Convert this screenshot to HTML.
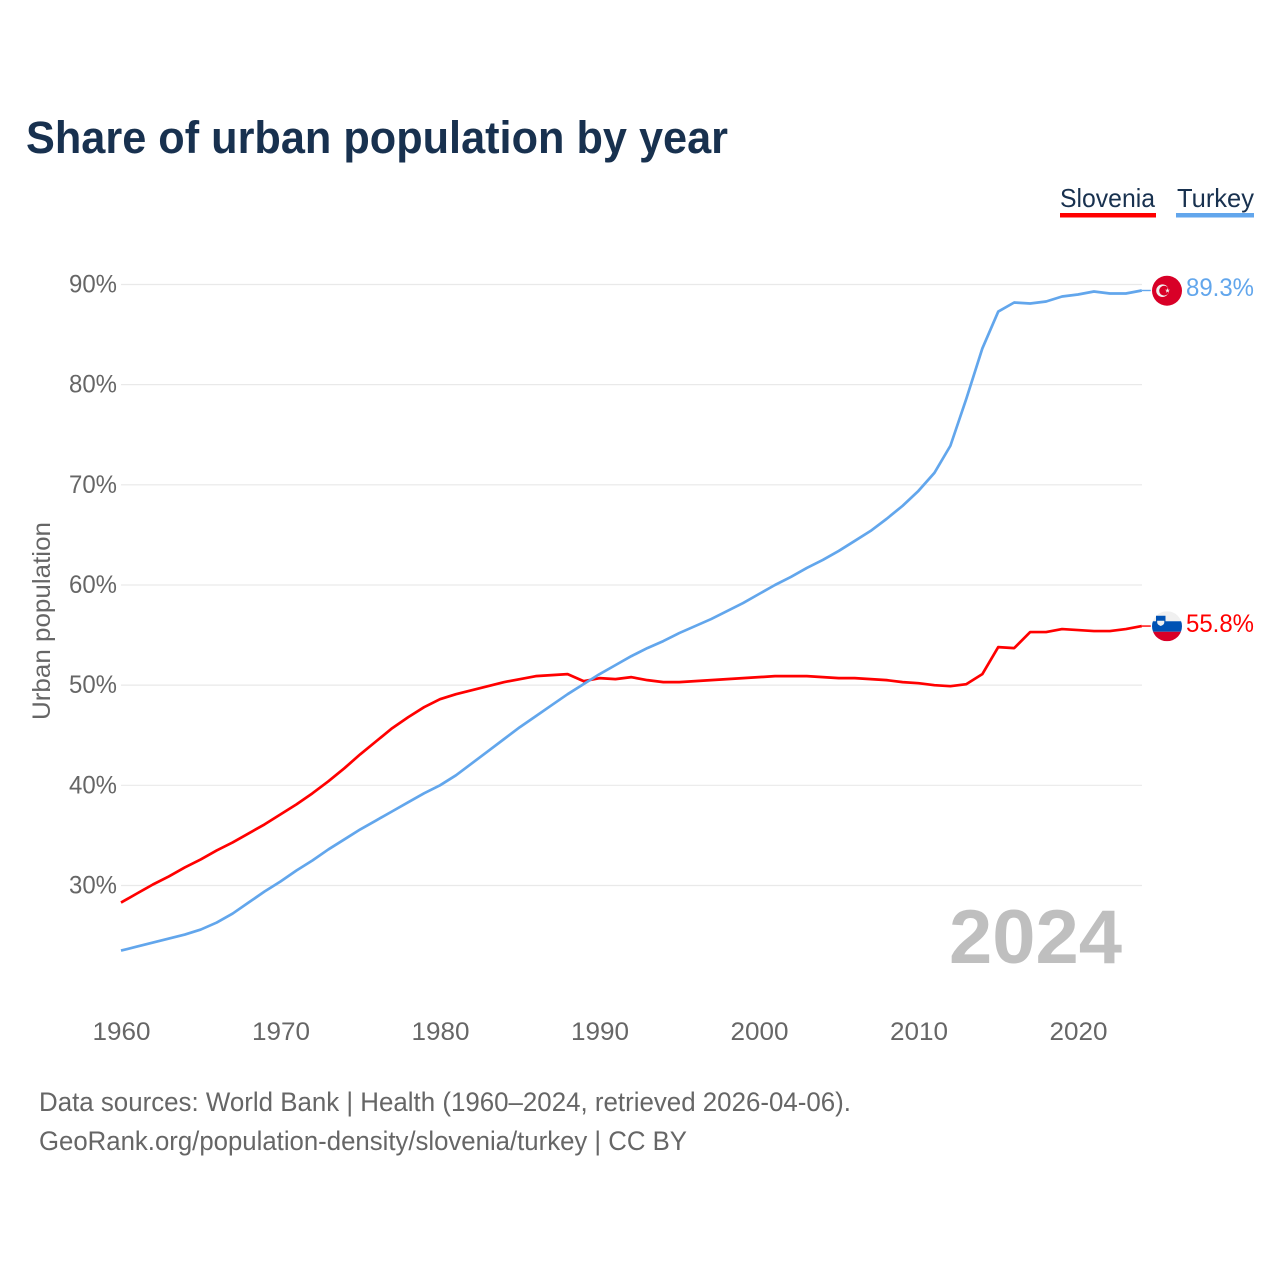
<!DOCTYPE html>
<html lang="en">
<head>
<meta charset="utf-8">
<title>Share of urban population by year</title>
<style>
html,body{margin:0;padding:0;background:#fff;}
svg{display:block;}
text{font-family:"Liberation Sans",sans-serif;}
</style>
</head>
<body>
<svg id="chart" xmlns="http://www.w3.org/2000/svg" width="1280" height="1280" viewBox="0 0 1280 1280">
  <rect width="1280" height="1280" fill="#fff"/>
  <text x="26" y="153" font-size="45" font-weight="700" fill="#18314f" textLength="702" lengthAdjust="spacingAndGlyphs">Share of urban population by year</text>

  <g>
    <text x="1060" y="207" font-size="26" fill="#18314f" textLength="95" lengthAdjust="spacingAndGlyphs">Slovenia</text>
    <rect x="1060" y="213" width="96" height="4.5" fill="#ff0000"/>
  </g>
  <g>
    <text x="1177" y="207" font-size="26" fill="#18314f" textLength="77" lengthAdjust="spacingAndGlyphs">Turkey</text>
    <rect x="1176" y="213" width="78" height="4.5" fill="#62a6ec"/>
  </g>

  <g id="grid"></g>
  <g id="yticks"></g>
  <g id="xticks"></g>
  <text transform="translate(50,720) rotate(-90)" font-size="25" fill="#666" textLength="198" lengthAdjust="spacingAndGlyphs">Urban population</text>

  <text x="1122" y="963" text-anchor="end" font-size="76" font-weight="700" fill="#bfbfbf" textLength="173" lengthAdjust="spacingAndGlyphs">2024</text>

  <g id="series"></g>

  <g id="flag-turkey">
    <circle cx="0" cy="0" r="15" fill="#d80027"/>
    <circle cx="-4.5" cy="0" r="6.3" fill="#f0f0f0"/>
    <circle cx="-2.9" cy="0" r="4.9" fill="#d80027"/>
    <polygon points="0.5,-2.8 1.1,-1 3,-1 1.5,0.1 2,2 0.5,0.9 -1,2 -0.5,0.1 -2,-1 -0.1,-1" fill="#f0f0f0"/>
  </g>
  <g id="flag-slovenia">
    <clipPath id="si-clip"><circle cx="0" cy="0" r="15"/></clipPath>
    <g clip-path="url(#si-clip)">
      <rect x="-15" y="-15" width="30" height="10" fill="#f0f0f0"/>
      <rect x="-15" y="-5" width="30" height="10.5" fill="#0052b4"/>
      <rect x="-15" y="5.5" width="30" height="9.5" fill="#d80027"/>
    </g>
    <path d="M-11,-10.5 h9.5 v6.5 q0,3.6 -4.75,5 q-4.75,-1.4 -4.75,-5 z" fill="#0052b4"/>
    <path d="M-9.8,-5.5 h7.1 v1.6 q0,2.4 -3.55,3.6 q-3.55,-1.2 -3.55,-3.6 z" fill="#f0f0f0"/>
  </g>
  <text id="label-turkey" x="1186" y="296" font-size="25" fill="#62a6ec" textLength="68" lengthAdjust="spacingAndGlyphs">89.3%</text>
  <text id="label-slovenia" x="1186" y="632" font-size="25" fill="#ff0000" textLength="68" lengthAdjust="spacingAndGlyphs">55.8%</text>

  <text x="39" y="1111" font-size="26.5" fill="#666" textLength="812" lengthAdjust="spacingAndGlyphs">Data sources: World Bank | Health (1960–2024, retrieved 2026-04-06).</text>
  <text x="39" y="1150" font-size="26.5" fill="#666" textLength="648" lengthAdjust="spacingAndGlyphs">GeoRank.org/population-density/slovenia/turkey | CC BY</text>
</svg>
<script>
const startYear = 1960;
const slovenia = [28.3,29.2,30.1,30.9,31.8,32.6,33.5,34.3,35.2,36.1,37.1,38.1,39.2,40.4,41.7,43.1,44.4,45.7,46.8,47.8,48.6,49.1,49.5,49.9,50.3,50.6,50.9,51.0,51.1,50.4,50.7,50.6,50.8,50.5,50.3,50.3,50.4,50.5,50.6,50.7,50.8,50.9,50.9,50.9,50.8,50.7,50.7,50.6,50.5,50.3,50.2,50.0,49.9,50.1,51.1,53.8,53.7,55.3,55.3,55.6,55.5,55.4,55.4,55.6,55.9];
const turkey = [23.5,23.9,24.3,24.7,25.1,25.6,26.3,27.2,28.3,29.4,30.4,31.5,32.5,33.6,34.6,35.6,36.5,37.4,38.3,39.2,40.0,41.0,42.2,43.4,44.6,45.8,46.9,48.0,49.1,50.1,51.1,52.0,52.9,53.7,54.4,55.2,55.9,56.6,57.4,58.2,59.1,60.0,60.8,61.7,62.5,63.4,64.4,65.4,66.6,67.9,69.4,71.2,73.9,78.6,83.6,87.3,88.2,88.1,88.3,88.8,89.0,89.3,89.1,89.1,89.4];
const yTicks = [30,40,50,60,70,80,90];
const xTicks = [1960,1970,1980,1990,2000,2010,2020];

const NS = 'http://www.w3.org/2000/svg';
function xScale(year){ return 121 + (year - 1960) * 15.95; }
function yScale(v){ return 885.5 - (v - 30) * 10.017; }
function make(tag, parent, attrs){
  const el = document.createElementNS(NS, tag);
  for (const k in attrs) el.setAttribute(k, attrs[k]);
  parent.appendChild(el);
  return el;
}
const grid = document.getElementById('grid');
const yG = document.getElementById('yticks');
const xG = document.getElementById('xticks');
const seriesG = document.getElementById('series');

yTicks.forEach(function(t){
  const line = make('line', grid, {x1:121, x2:1142, y1:yScale(t), y2:yScale(t), stroke:'#e9e9e9', 'stroke-width':1.2});
  
  
  const label = make('text', yG, {x:117, y:yScale(t) + 8, 'text-anchor':'end', 'font-size':25, fill:'#666', textLength:48, lengthAdjust:'spacingAndGlyphs'});
  label.textContent = t + '%';
  
  
});
xTicks.forEach(function(t){
  const label = make('text', xG, {x:xScale(t) + 0.5, y:1040, 'text-anchor':'middle', 'font-size':25, fill:'#666', textLength:58, lengthAdjust:'spacingAndGlyphs'});
  label.textContent = t;
  
  
});
function drawSeries(values, color, name, flagId){
  const pts = values.map(function(v, i){ return xScale(startYear + i).toFixed(2) + ',' + yScale(v).toFixed(2); });
  const lastX = xScale(startYear + values.length - 1);
  const lastY = yScale(values[values.length - 1]);
  const path = make('polyline', seriesG, {points:pts.join(' '), fill:'none', stroke:color, 'stroke-width':2.7, 'stroke-linejoin':'round'});
  
  
  const leader = make('line', seriesG, {x1:lastX, y1:lastY, x2:lastX + 9, y2:lastY, stroke:color, 'stroke-width':1.4});
  
  
  document.getElementById(flagId).setAttribute('transform', 'translate(1167,' + (lastY + 0.2).toFixed(2) + ')');
}
drawSeries(slovenia, '#ff0000', 'slovenia', 'flag-slovenia');
drawSeries(turkey, '#62a6ec', 'turkey', 'flag-turkey');
</script>
</body>
</html>
